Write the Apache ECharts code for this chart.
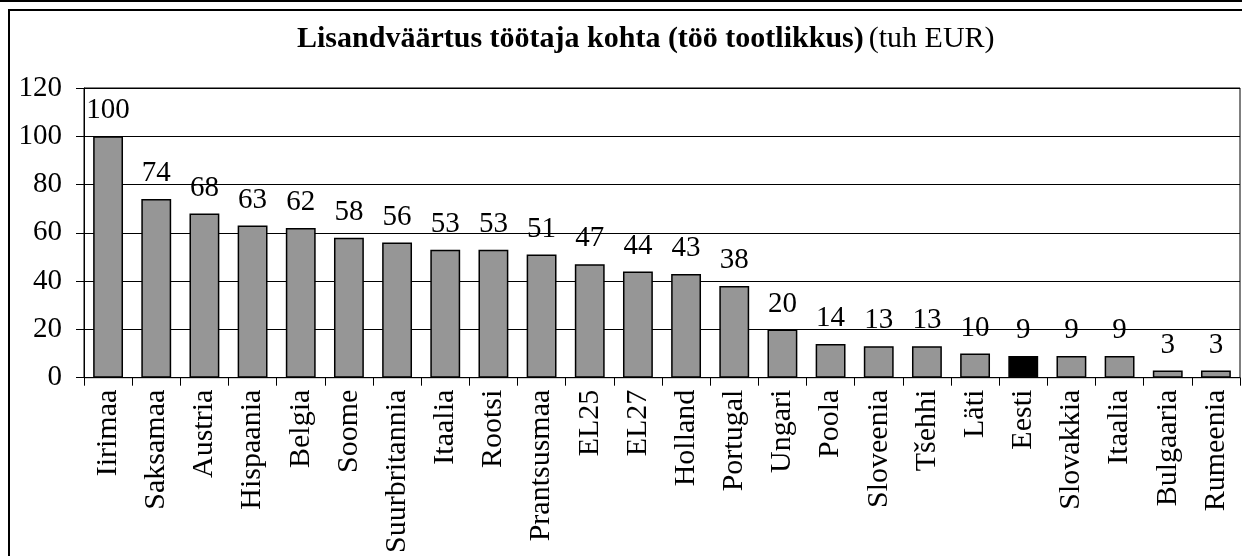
<!DOCTYPE html>
<html>
<head>
<meta charset="utf-8">
<script src="https://cdn.jsdelivr.net/npm/echarts@6/dist/echarts.min.js"></script>
<style>
  html, body { margin: 0; padding: 0; background: #fff; }
  #main { width: 1242px; height: 556px; }
</style>
</head>
<body>
<div id="main"></div>
<script>
var categories = ['Iirimaa', 'Saksamaa', 'Austria', 'Hispaania', 'Belgia', 'Soome', 'Suurbritannia', 'Itaalia', 'Rootsi', 'Prantsusmaa', 'EL25', 'EL27', 'Holland', 'Portugal', 'Ungari', 'Poola', 'Sloveenia', 'Tšehhi', 'Läti', 'Eesti', 'Slovakkia', 'Itaalia', 'Bulgaaria', 'Rumeenia'];
var values = [100, 74, 68, 63, 62, 58, 56, 53, 53, 51, 47, 44, 43, 38, 20, 14, 13, 13, 10, 9, 9, 9, 3, 3];
var highlight = 'Eesti';

var myChart = echarts.init(document.getElementById('main'));
var font = '"Liberation Serif", "Times New Roman", serif';

var option = {
    backgroundColor: '#fff',
    animation: false,
    title: {
        text: '{b|Lisandväärtus töötaja kohta (töö tootlikkus)} {n|(tuh EUR)}',
        left: 297,
        top: 24,
        padding: 0,
        textStyle: {
            fontWeight: 'normal',
            rich: {
                b: { fontFamily: font, fontWeight: 'bold', fontSize: 30, color: '#000' },
                n: { fontFamily: font, fontWeight: 'normal', fontSize: 30, color: '#000' }
            }
        }
    },
    graphic: [
        { type: 'line', shape: { x1: 0, y1: 1, x2: 1242, y2: 1 }, style: { stroke: '#000', lineWidth: 2 } },
        { type: 'rect', shape: { x: 9, y: 10, width: 1240, height: 600 }, style: { fill: null, stroke: '#000', lineWidth: 2 } }
    ],
    grid: {
        left: 84, top: 88, right: 2, bottom: 177,
        show: true, borderColor: '#000', borderWidth: 1
    },
    xAxis: {
        type: 'category',
        data: categories,
        axisLine: { lineStyle: { color: '#000', width: 1 } },
        axisTick: { show: true, length: 8, lineStyle: { color: '#000' } },
        axisLabel: {
            interval: 0, rotate: 90, margin: 12,
            fontFamily: font, fontSize: 30, color: '#000'
        }
    },
    yAxis: {
        type: 'value',
        min: 0, max: 120, interval: 20,
        axisLine: { show: true, lineStyle: { color: '#000', width: 1 } },
        axisTick: { show: true, length: 8, lineStyle: { color: '#000' } },
        axisLabel: { margin: 22, fontFamily: font, fontSize: 29, color: '#000' },
        splitLine: { lineStyle: { color: '#000', width: 1 } }
    },
    series: [{
        type: 'bar',
        barWidth: '62%',
        data: values.map(function (v, i) {
            return {
                value: v,
                itemStyle: { color: categories[i] === highlight ? '#000' : '#969696' }
            };
        }),
        itemStyle: { borderColor: '#000', borderWidth: 1.5 },
        label: {
            show: true, position: 'top', distance: 11,
            fontFamily: font, fontSize: 29, color: '#000'
        }
    }]
};
myChart.setOption(option);
</script>
</body>
</html>
